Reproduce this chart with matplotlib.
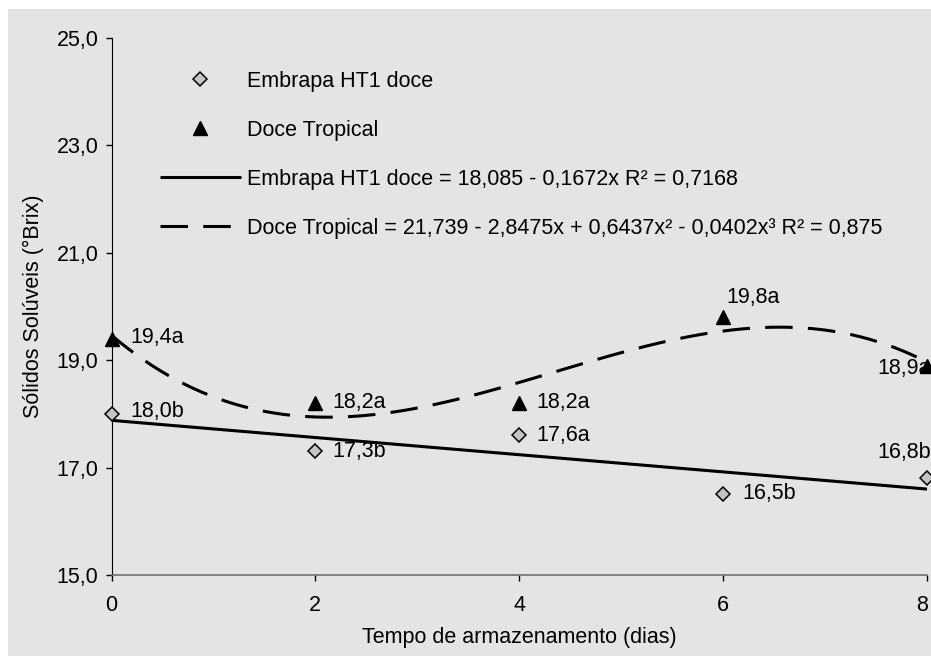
import numpy as np
import matplotlib
matplotlib.use('Agg')
import matplotlib.pyplot as plt
import matplotlib.transforms as mtransforms
from matplotlib.patches import Rectangle

plt.rcParams['font.family'] = ['Liberation Sans', 'DejaVu Sans']
plt.rcParams['font.size'] = 15.5

# dados
dias = [0, 2, 4, 6, 8]
embrapa = [18.0, 17.3, 17.6, 16.5, 16.8]
tropical = [19.4, 18.2, 18.2, 19.8, 18.9]
rot_embrapa = ['18,0b', '17,3b', '17,6a', '16,5b', '16,8b']
rot_tropical = ['19,4a', '18,2a', '18,2a', '19,8a', '18,9a']
eq_embrapa = 'Embrapa HT1 doce = 18,085 - 0,1672x R² = 0,7168'
eq_tropical = 'Doce Tropical = 21,739 - 2,8475x + 0,6437x² - 0,0402x³ R² = 0,875'
yticks = [15, 17, 19, 21, 23, 25]
xticks = [0, 2, 4, 6, 8]

# deslocamento dos rotulos (pixels)
off_embrapa = [(19, 2), (17, 0), (17, 0), (19, 1), (-50, 26)]
off_tropical = [(19, 1), (17, 1), (17, 1), (3, 20), (-50, -3)]

cinza = '#e4e4e4'
fig = plt.figure(figsize=(9.31, 6.56), dpi=100, facecolor='white')
fig.patches.append(Rectangle((8 / 931, 0), 1, 1 - 9 / 656, transform=fig.transFigure,
                             facecolor=cinza, edgecolor='none', zorder=-10))
ax = fig.add_axes([111.5 / 931, (656 - 575) / 656, (927 - 111.5) / 931, (575 - 38) / 656])
ax.set_facecolor('none')

# linhas de tendencia
xs = np.linspace(0, 8, 300)
c1 = np.polyfit(dias, embrapa, 1)
c3 = np.polyfit(dias, tropical, 3)
ax.plot(xs, np.polyval(c1, xs), color='black', lw=2.2, solid_capstyle='butt', label=eq_embrapa, zorder=2)
ax.plot(xs, np.polyval(c3, xs), color='black', lw=2.2, linestyle=(0, (9, 5)), dash_capstyle='butt',
        label=eq_tropical, zorder=2)

# rotulos
for x, y, t, (dx, dy) in zip(dias, embrapa, rot_embrapa, off_embrapa):
    ax.annotate(t, (x, y), xytext=(dx * 0.72, dy * 0.72), textcoords='offset points',
                ha='left', va='center', annotation_clip=False, zorder=3)
for x, y, t, (dx, dy) in zip(dias, tropical, rot_tropical, off_tropical):
    ax.annotate(t, (x, y), xytext=(dx * 0.72, dy * 0.72), textcoords='offset points',
                ha='left', va='center', annotation_clip=False, zorder=3)

# pontos
ax.plot(dias, embrapa, 'D', ms=6.8, mfc='#c4c4c4', mec='black', mew=1.1, ls='none',
        label='Embrapa HT1 doce', clip_on=False, zorder=4)
ax.plot(dias, tropical, '^', ms=10, color='black', ls='none', label='Doce Tropical',
        clip_on=False, zorder=4)

ax.set_xlim(0, 8)
ax.set_ylim(15, 25)
ax.set_xticks(xticks)
ax.set_yticks(yticks)
ax.set_yticklabels([f'{v:.1f}'.replace('.', ',') for v in yticks])
ax.tick_params(direction='out', length=4.3, width=1, colors='black')
ax.tick_params(axis='y', pad=5)
ax.tick_params(axis='x', pad=10)
for s in ['top', 'right']:
    ax.spines[s].set_visible(False)
ax.spines['left'].set_color('black')
ax.spines['bottom'].set_color('#707070')
ax.spines['bottom'].set_linewidth(1.2)

# ultimo rotulo do eixo x um pouco para a esquerda, para caber na figura
ultimo = ax.get_xticklabels()[-1]
ultimo.set_transform(ultimo.get_transform() +
                     mtransforms.ScaledTranslation(-5 / 100, 0, fig.dpi_scale_trans))

ax.set_xlabel('Tempo de armazenamento (dias)')
ax.set_ylabel('Sólidos Solúveis (°Brix)')
ax.xaxis.set_label_coords(0.5, -(638 - 575) / 537)
ax.xaxis.label.set_va('center')
ax.yaxis.set_label_coords((33 - 111.5) / 815.5, 0.5)
ax.yaxis.label.set_va('center')

h, l = ax.get_legend_handles_labels()
ordem = [2, 3, 0, 1]
leg = ax.legend([h[i] for i in ordem], [l[i] for i in ordem], loc='upper left',
                bbox_to_anchor=(160 / 931, 1 - 71 / 656), bbox_transform=fig.transFigure,
                frameon=False, numpoints=1, handlelength=3.75, handletextpad=0.28,
                labelspacing=1.3, borderpad=0, borderaxespad=0)

fig.savefig('out.png', dpi=100, facecolor='white')
